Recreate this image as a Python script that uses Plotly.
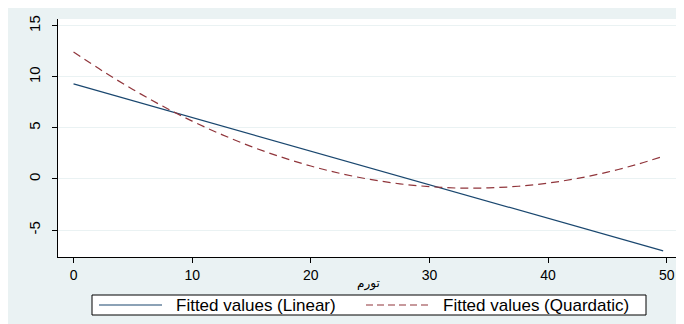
import plotly.graph_objects as go

# Data
x_linear = [0, 10, 20, 30, 40, 49.7]
y_linear = [9.31, 6.02, 2.73, -0.56, -3.85, -7.04]

x_quad = [0, 2.5, 5, 7.5, 10, 12.5, 15, 17.5, 20, 22.5, 25, 27.5, 30,
          32.5, 35, 37.5, 40, 42.5, 45, 47.5, 49.7]
y_quad = [12.45, 10.54, 8.77, 7.14, 5.67, 4.35, 3.17, 2.15, 1.27, 0.54,
          -0.04, -0.47, -0.75, -0.89, -0.87, -0.71, -0.40, 0.06, 0.67, 1.43, 2.22]

x_ticks = [0, 10, 20, 30, 40, 50]
y_ticks = [-5, 0, 5, 10, 15]
y_ticktext = ["-5", "0", "5", "10", "15"]
x_title = "تورم"
name_linear = "Fitted values (Linear)"
name_quad = "Fitted values (Quardatic)"

BG = "#EAF2F3"
FONT = "Liberation Sans, Arial, sans-serif"
C_LIN = "#1a476f"
C_QUAD = "#90353b"

fig = go.Figure()
fig.add_trace(go.Scatter(x=x_linear, y=y_linear, mode="lines", name=name_linear,
                         line=dict(color=C_LIN, width=1.2), showlegend=False))
fig.add_trace(go.Scatter(x=x_quad, y=y_quad, mode="lines", name=name_quad,
                         line=dict(color=C_QUAD, width=1.2, dash="8px,5px"),
                         line_shape="spline", showlegend=False))

# page body has an 8px margin; figure fills the rest of the 684x324 window
OFF = 8
W, H = 684 - OFF, 324 - OFF
ml, mr, mt, mb = 58 - OFF, 684 - 678, 19 - OFF, 324 - 257
pw, ph = W - ml - mr, H - mt - mb


def px(x):  # page pixel x -> paper fraction
    return (x - OFF - ml) / pw


def py(y):  # page pixel y -> paper fraction
    return (H - mb - (y - OFF)) / ph


# x-axis title
fig.add_annotation(text=x_title, xref="paper", yref="paper",
                   x=0.5, y=py(283), xanchor="center", yanchor="middle",
                   showarrow=False, font=dict(size=12, family="DejaVu Sans", color="black"))

# legend box drawn below the plot
fig.add_shape(type="rect", xref="paper", yref="paper",
              x0=px(92), x1=px(646), y0=py(315), y1=py(295),
              fillcolor="white", line=dict(color="black", width=1))
fig.add_shape(type="line", xref="paper", yref="paper",
              x0=px(99), x1=px(162), y0=py(305), y1=py(305),
              line=dict(color=C_LIN, width=1.2))
fig.add_shape(type="line", xref="paper", yref="paper",
              x0=px(366), x1=px(431), y0=py(305), y1=py(305),
              line=dict(color=C_QUAD, width=1.2, dash="7px,4px"))
fig.add_annotation(text=name_linear, xref="paper", yref="paper",
                   x=px(174), y=py(305.5), xanchor="left", yanchor="middle",
                   showarrow=False, font=dict(size=17, family=FONT, color="black"))
fig.add_annotation(text=name_quad, xref="paper", yref="paper",
                   x=px(441), y=py(305.5), xanchor="left", yanchor="middle",
                   showarrow=False, font=dict(size=17, family=FONT, color="black"))

fig.update_layout(
    width=W, height=H,
    margin=dict(l=ml, r=mr, t=mt, b=mb, pad=0, autoexpand=False),
    paper_bgcolor=BG, plot_bgcolor="white",
    font=dict(family=FONT, color="black", size=14),
    showlegend=False,
)
fig.update_xaxes(range=[-1.31, 50.95], tickvals=x_ticks, ticks="outside", ticklen=5,
                 tickcolor="black", showline=True, linecolor="black", linewidth=1,
                 showgrid=False, zeroline=False, tickfont=dict(size=14), automargin=False)
fig.update_yaxes(range=[-7.64, 15.67], tickvals=y_ticks, ticktext=y_ticktext,
                 ticks="outside", ticklen=5, automargin=False,
                 tickcolor="black", showline=True, linecolor="black", linewidth=1,
                 showgrid=True, gridcolor=BG, gridwidth=1, zeroline=False,
                 tickangle=-90, tickfont=dict(size=15), ticklabelstandoff=6)

fig.write_html("out.html")
